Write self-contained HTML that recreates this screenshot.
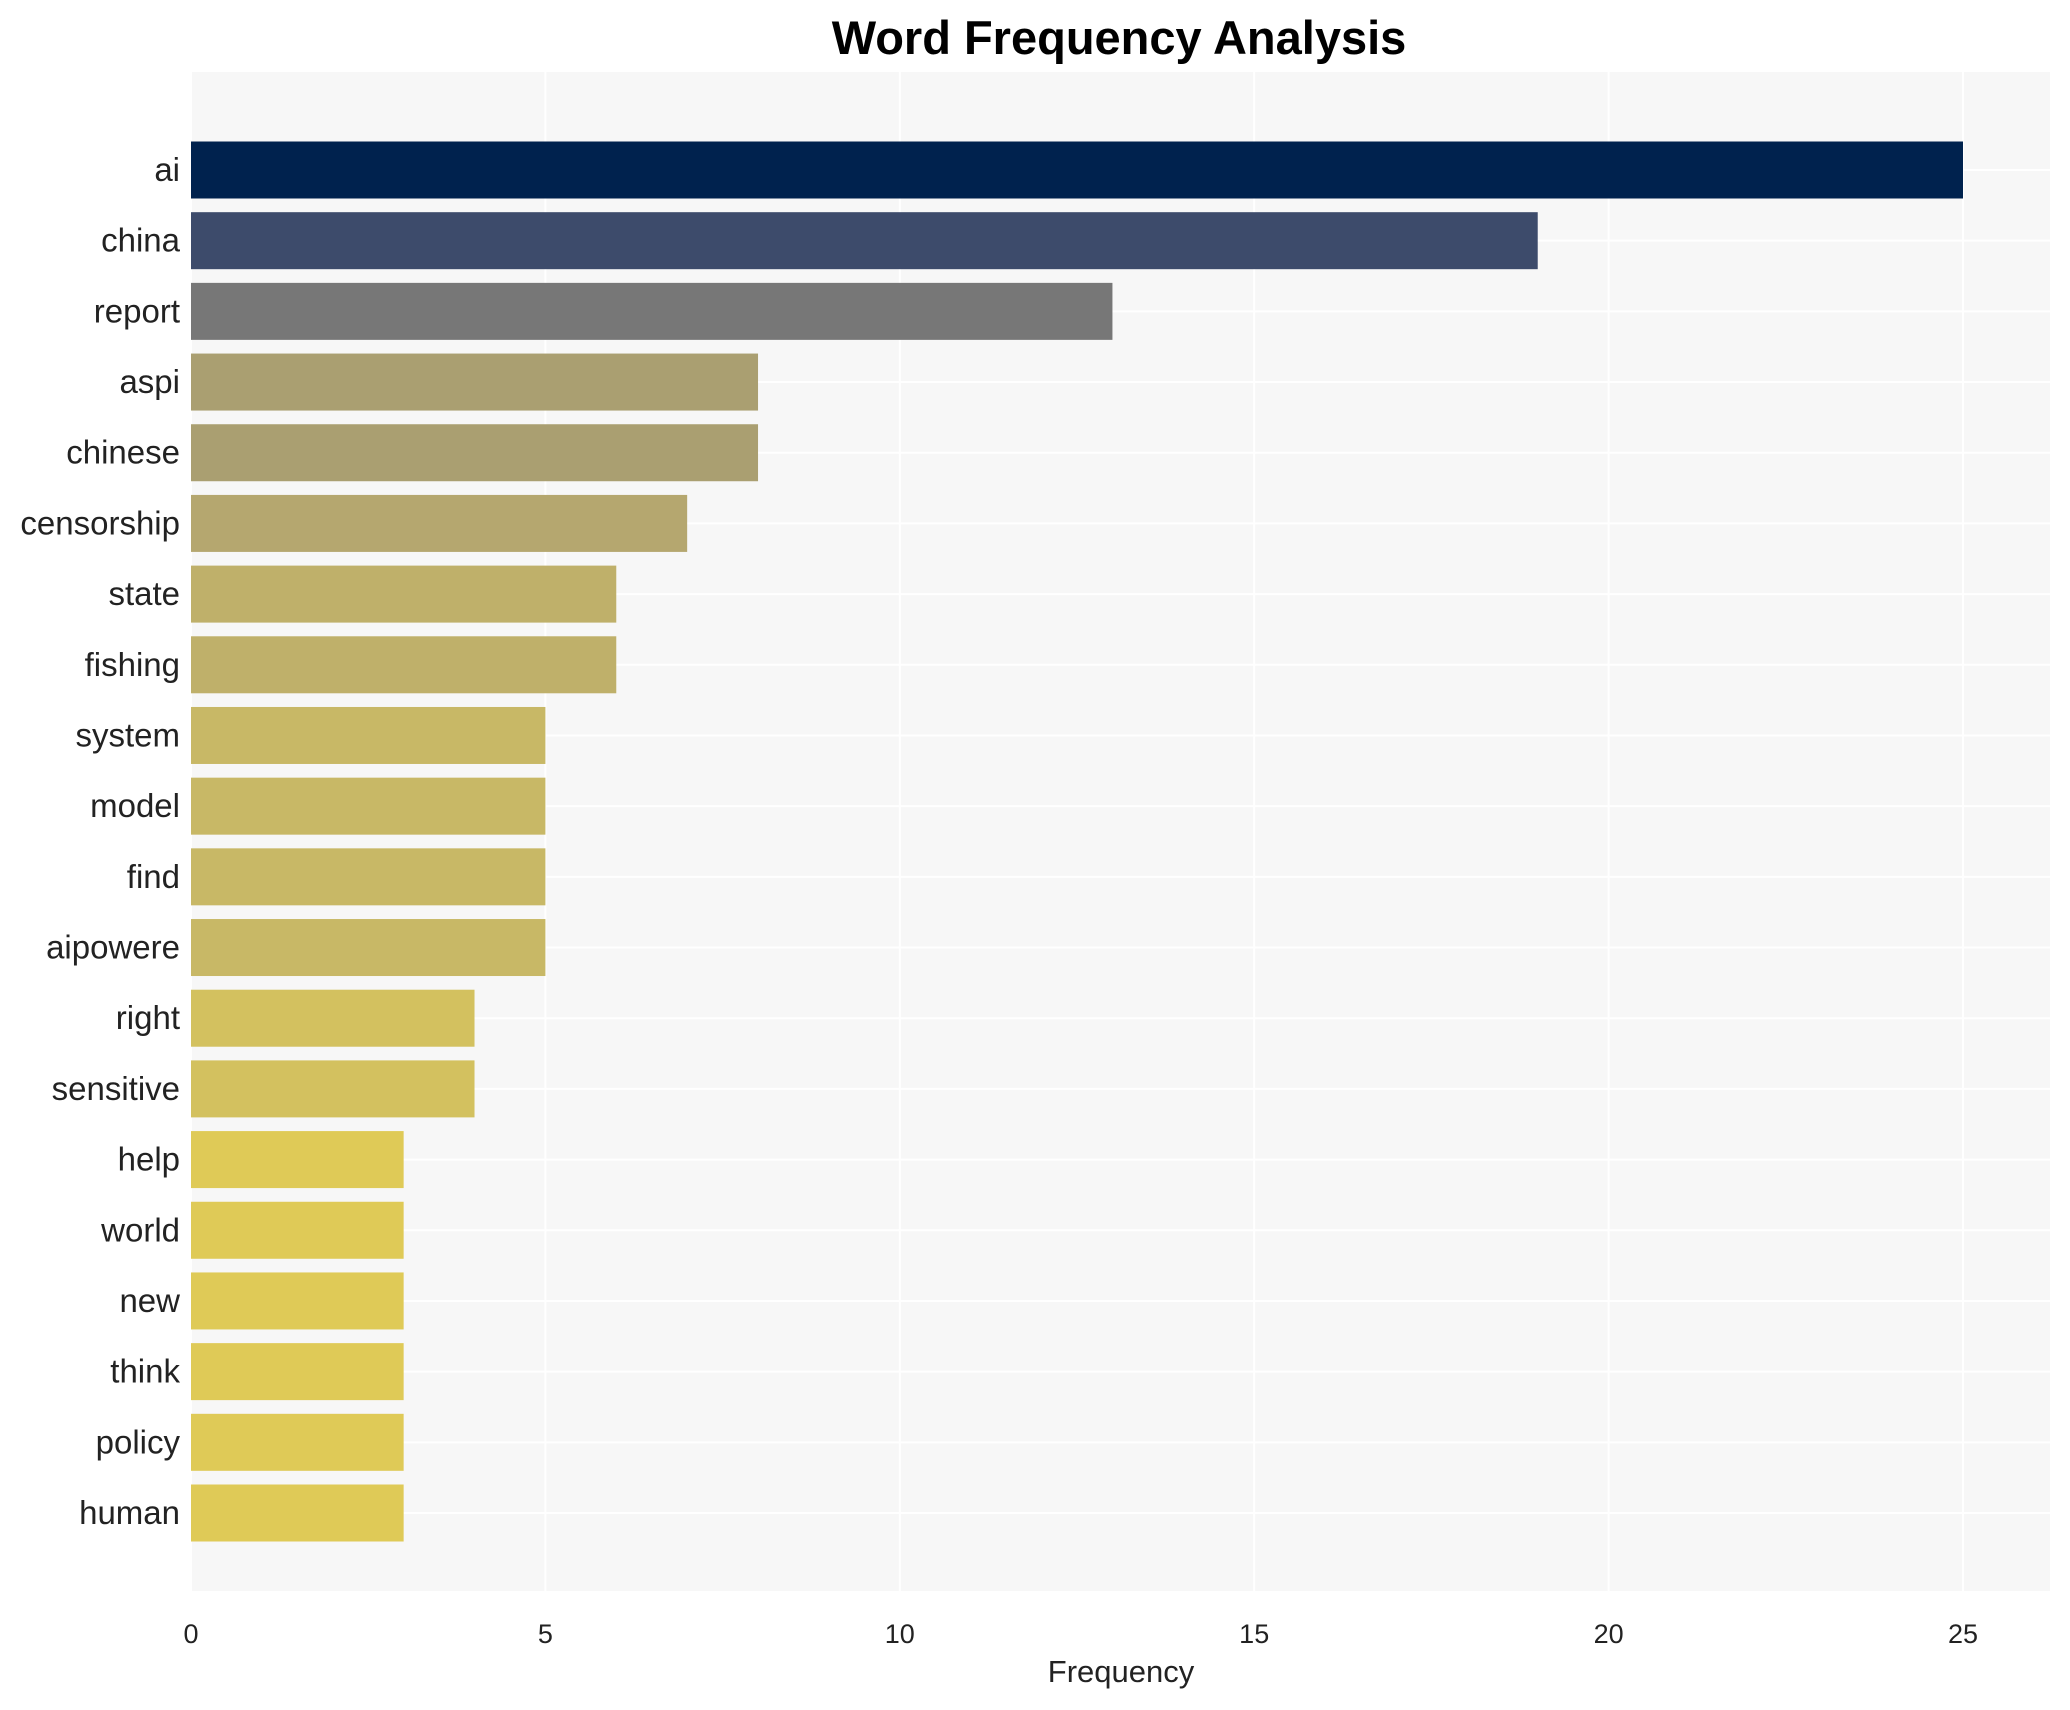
<!DOCTYPE html>
<html><head><meta charset="utf-8"><style>
html,body{margin:0;padding:0;background:#fff;}
svg{display:block;font-family:"Liberation Sans",Arial,sans-serif;}
</style></head><body>
<svg id="chart" width="2070" height="1710" viewBox="0 0 2070 1710" xmlns="http://www.w3.org/2000/svg">
<text x="1119" y="54" text-anchor="middle" font-size="47" font-weight="bold" fill="#000">Word Frequency Analysis</text>
<rect x="191" y="72" width="1859" height="1519" fill="#f7f7f7"/>
<g id="grid"></g>
<g id="bars"></g>
<g id="ylabels"></g>
<g id="xticks"></g>
<text x="1121" y="1682" text-anchor="middle" font-size="31" fill="#222">Frequency</text>
</svg>
<script>
const categories = ["ai","china","report","aspi","chinese","censorship","state","fishing","system","model","find","aipowere","right","sensitive","help","world","new","think","policy","human"];
const values = [25,19,13,8,8,7,6,6,5,5,5,5,4,4,3,3,3,3,3,3];
const colors = ["#00224e","#3d4b6b","#777777","#aa9f71","#aa9f71","#b5a76f","#bfb06a","#bfb06a","#c8b866","#c8b866","#c8b866","#c8b866","#d3c15f","#d3c15f","#dfca57","#dfca57","#dfca57","#dfca57","#dfca57","#dfca57"];
const xTicks = [0,5,10,15,20,25];

const NS = "http://www.w3.org/2000/svg";
const x0 = 191, pxPerUnit = (1963 - 191) / 25;
function xScale(v){ return x0 + v * pxPerUnit; }
const firstCenter = 170, step = (1513 - 170) / 19;
function yScale(i){ return firstCenter + i * step; }
const barH = 57;

const grid = document.getElementById('grid');
xTicks.forEach(t => {
  const l = document.createElementNS(NS,'line');
  
  
  l.setAttribute('x1',xScale(t)); l.setAttribute('x2',xScale(t));
  l.setAttribute('y1',72); l.setAttribute('y2',1591);
  l.setAttribute('stroke','#ffffff'); l.setAttribute('stroke-width','2');
  grid.appendChild(l);
});
categories.forEach((c,i) => {
  const l = document.createElementNS(NS,'line');
  
  
  l.setAttribute('x1',191); l.setAttribute('x2',2050);
  l.setAttribute('y1',yScale(i)); l.setAttribute('y2',yScale(i));
  l.setAttribute('stroke','#ffffff'); l.setAttribute('stroke-width','2');
  grid.appendChild(l);
});

const bars = document.getElementById('bars');
const ylabels = document.getElementById('ylabels');
categories.forEach((c,i) => {
  const r = document.createElementNS(NS,'rect');
  
  
  r.setAttribute('x',xScale(0));
  r.setAttribute('y',yScale(i) - barH/2);
  r.setAttribute('width',xScale(values[i]) - xScale(0));
  r.setAttribute('height',barH);
  r.setAttribute('fill',colors[i]);
  bars.appendChild(r);
  const t = document.createElementNS(NS,'text');
  
  
  t.setAttribute('x',180);
  t.setAttribute('y',yScale(i) + 11);
  t.setAttribute('text-anchor','end');
  t.setAttribute('font-size','33');
  t.setAttribute('fill','#222');
  t.textContent = c;
  ylabels.appendChild(t);
});

const xticks = document.getElementById('xticks');
xTicks.forEach(v => {
  const t = document.createElementNS(NS,'text');
  
  
  t.setAttribute('x',xScale(v));
  t.setAttribute('y',1643);
  t.setAttribute('text-anchor','middle');
  t.setAttribute('font-size','27');
  t.setAttribute('fill','#222');
  t.textContent = v;
  xticks.appendChild(t);
});
</script>
</body></html>
